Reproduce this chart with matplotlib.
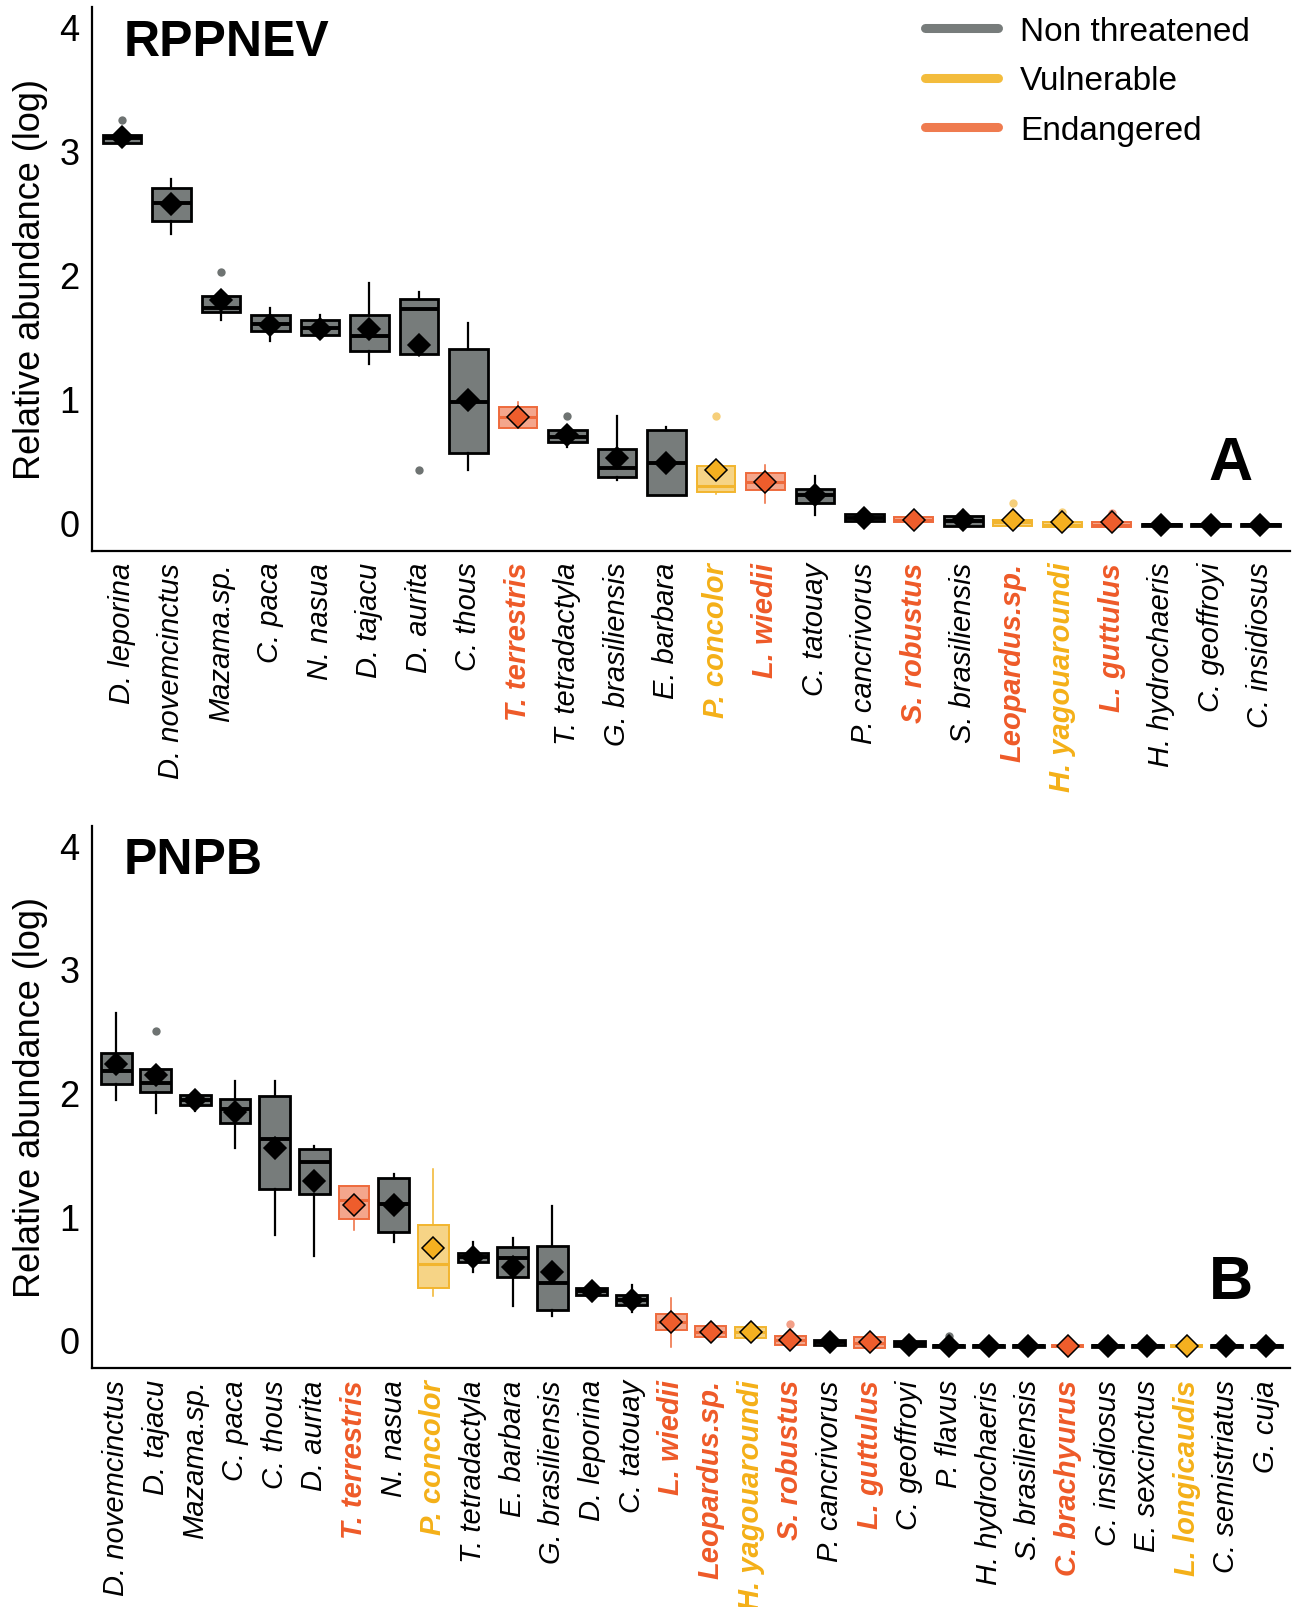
import matplotlib.pyplot as plt
from matplotlib.lines import Line2D

plt.rcParams['font.family'] = ['Liberation Sans', 'DejaVu Sans']

# status: N = non threatened, V = vulnerable, E = endangered
# ---------------- panel A : RPPNEV ----------------
species_a = ["D. leporina", "D. novemcinctus", "Mazama.sp.", "C. paca", "N. nasua",
             "D. tajacu", "D. aurita", "C. thous", "T. terrestris", "T. tetradactyla",
             "G. brasiliensis", "E. barbara", "P. concolor", "L. wiedii", "C. tatouay",
             "P. cancrivorus", "S. robustus", "S. brasiliensis", "Leopardus.sp.",
             "H. yagouaroundi", "L. guttulus", "H. hydrochaeris", "C. geoffroyi",
             "C. insidiosus"]
label_status_a = ["N", "N", "N", "N", "N", "N", "N", "N", "E", "N", "N", "N", "V", "E",
                  "N", "N", "E", "N", "E", "V", "E", "N", "N", "N"]
box_status_a = ["N", "N", "N", "N", "N", "N", "N", "N", "E", "N", "N", "N", "V", "E",
                "N", "N", "E", "N", "V", "V", "E", "N", "N", "N"]
q1_a = [3.06, 2.43, 1.70, 1.54, 1.51, 1.38, 1.36, 0.56, 0.76, 0.65, 0.36, 0.22, 0.24, 0.26,
        0.15, 0.005, 0.0, -0.03, -0.03, -0.04, -0.04, -0.035, -0.035, -0.035]
med_a = [3.10, 2.58, 1.73, 1.60, 1.57, 1.50, 1.72, 0.97, 0.85, 0.69, 0.44, 0.48, 0.29, 0.32,
         0.22, 0.03, 0.02, 0.01, 0.0, -0.02, -0.02, -0.025, -0.025, -0.025]
q3_a = [3.13, 2.70, 1.83, 1.67, 1.63, 1.67, 1.80, 1.40, 0.93, 0.74, 0.59, 0.74, 0.45, 0.40,
        0.27, 0.065, 0.04, 0.05, 0.02, 0.0, 0.0, -0.015, -0.015, -0.015]
lo_a = [3.04, 2.33, 1.63, 1.46, 1.51, 1.28, 1.36, 0.42, 0.76, 0.61, 0.34, 0.22, 0.23, 0.15,
        0.06, 0.0, 0.0, -0.03, -0.03, -0.04, -0.04, -0.035, -0.035, -0.035]
hi_a = [3.16, 2.77, 1.85, 1.73, 1.67, 1.93, 1.86, 1.61, 0.97, 0.77, 0.86, 0.77, 0.45, 0.46,
        0.37, 0.07, 0.04, 0.10, 0.02, 0.0, 0.0, -0.015, -0.015, -0.015]
mean_a = [3.11, 2.57, 1.79, 1.59, 1.56, 1.56, 1.43, 0.99, 0.85, 0.70, 0.52, 0.48, 0.42, 0.32,
          0.22, 0.03, 0.02, 0.02, 0.02, 0.0, 0.0, -0.025, -0.025, -0.025]
out_a = [[3.25], [], [2.02], [], [], [], [0.42], [], [], [0.86], [], [], [0.86], [], [],
         [], [], [], [0.15], [0.08], [0.075], [], [], []]

# ---------------- panel B : PNPB ----------------
species_b = ["D. novemcinctus", "D. tajacu", "Mazama.sp.", "C. paca", "C. thous", "D. aurita",
             "T. terrestris", "N. nasua", "P. concolor", "T. tetradactyla", "E. barbara",
             "G. brasiliensis", "D. leporina", "C. tatouay", "L. wiedii", "Leopardus.sp.",
             "H. yagouaroundi", "S. robustus", "P. cancrivorus", "L. guttulus", "C. geoffroyi",
             "P. flavus", "H. hydrochaeris", "S. brasiliensis", "C. brachyurus", "C. insidiosus",
             "E. sexcinctus", "L. longicaudis", "C. semistriatus", "G. cuja"]
label_status_b = ["N", "N", "N", "N", "N", "N", "E", "N", "V", "N", "N", "N", "N", "N", "E",
                  "E", "V", "E", "N", "E", "N", "N", "N", "N", "E", "N", "N", "V", "N", "N"]
box_status_b = label_status_b
q1_b = [2.07, 2.00, 1.90, 1.75, 1.22, 1.18, 0.98, 0.87, 0.42, 0.63, 0.51, 0.24, 0.36, 0.28,
        0.075, 0.02, 0.01, -0.04, -0.045, -0.07, -0.055, -0.06, -0.06, -0.06, -0.06, -0.06,
        -0.06, -0.06, -0.06, -0.06]
med_b = [2.17, 2.08, 1.94, 1.87, 1.62, 1.44, 1.13, 1.10, 0.61, 0.67, 0.66, 0.46, 0.39, 0.32,
         0.14, 0.06, 0.06, 0.0, -0.02, -0.03, -0.035, -0.05, -0.05, -0.05, -0.05, -0.05,
         -0.05, -0.05, -0.05, -0.05]
q3_b = [2.32, 2.19, 1.98, 1.95, 1.97, 1.54, 1.24, 1.31, 0.93, 0.70, 0.75, 0.76, 0.42, 0.36,
        0.21, 0.11, 0.10, 0.03, 0.0, 0.025, -0.01, -0.04, -0.04, -0.04, -0.04, -0.04,
        -0.04, -0.04, -0.04, -0.04]
lo_b = [1.94, 1.83, 1.85, 1.55, 0.85, 0.68, 0.89, 0.79, 0.35, 0.55, 0.27, 0.19, 0.31, 0.22,
        -0.06, 0.02, 0.01, -0.04, -0.045, -0.07, -0.055, -0.06, -0.06, -0.06, -0.06, -0.06,
        -0.06, -0.06, -0.06, -0.06]
hi_b = [2.64, 2.19, 1.99, 2.09, 2.09, 1.57, 1.24, 1.34, 1.38, 0.79, 0.82, 1.08, 0.46, 0.44,
        0.34, 0.11, 0.10, 0.03, 0.0, 0.025, -0.01, -0.04, -0.04, -0.04, -0.04, -0.04,
        -0.04, -0.04, -0.04, -0.04]
mean_b = [2.23, 2.14, 1.94, 1.84, 1.55, 1.28, 1.09, 1.09, 0.74, 0.67, 0.59, 0.55, 0.39, 0.32,
          0.14, 0.06, 0.06, 0.0, -0.02, -0.02, -0.04, -0.05, -0.05, -0.05, -0.05, -0.05,
          -0.05, -0.05, -0.05, -0.05]
out_b = [[], [2.50], [], [], [], [], [], [], [], [], [], [], [], [], [], [], [], [0.13], [],
         [], [], [0.03], [], [], [], [], [], [], [], []]

legend_labels = ["Non threatened", "Vulnerable", "Endangered"]

# colours per status
label_col = {"N": "black", "V": "#F4B018", "E": "#EE5A28"}
edge_col = {"N": "black", "V": "#F2B52E", "E": "#EE6A3C"}
face_col = {"N": "#777C7B", "V": "#F6D486", "E": "#F4A68C"}
dot_col = {"N": "#6E7372", "V": "#F6CF7A", "E": "#F3A088"}
mean_col = {"N": "black", "V": "#F5B020", "E": "#EE5D2C"}
leg_col = ["#777C7B", "#F3BC3C", "#EF7B4F"]


def draw_panel(ax, species, box_status, label_status, q1, med, q3, lo, hi, mean, out):
    for i in range(len(species)):
        st = box_status[i]
        stats = [dict(q1=q1[i], med=med[i], q3=q3[i], whislo=lo[i], whishi=hi[i],
                      mean=mean[i], fliers=out[i])]
        lw = 2.0 if st == "N" else 1.4
        ax.bxp(stats, positions=[i], widths=0.78, patch_artist=True,
               showmeans=True, showcaps=False, showfliers=True, manage_ticks=False,
               boxprops=dict(facecolor=face_col[st], edgecolor=edge_col[st], linewidth=lw),
               whiskerprops=dict(color=edge_col[st], linewidth=lw * 0.8),
               medianprops=dict(color=edge_col[st], linewidth=lw + 0.8),
               meanprops=dict(marker="D", markerfacecolor=mean_col[st],
                              markeredgecolor="black", markeredgewidth=1.1,
                              markersize=11),
               flierprops=dict(marker="o", markerfacecolor=dot_col[st],
                               markeredgecolor="none", markersize=6))
    ax.set_xlim(-0.6, len(species) - 0.4)
    ax.set_ylim(-0.23, 4.16)
    ax.set_yticks([0, 1, 2, 3, 4])
    ax.set_xticks(range(len(species)))
    ax.set_xticklabels(species, rotation=90, fontsize=21, style="italic")
    for lab, st in zip(ax.get_xticklabels(), label_status):
        lab.set_color(label_col[st])
        if st != "N":
            lab.set_fontweight("bold")
    ax.tick_params(axis="x", length=0, pad=8)
    ax.tick_params(axis="y", length=0, pad=9, labelsize=26)
    ax.set_ylabel("Relative abundance (log)", fontsize=26, labelpad=8)
    for s in ["top", "right"]:
        ax.spines[s].set_visible(False)
    for s in ["left", "bottom"]:
        ax.spines[s].set_linewidth(1.6)


fig = plt.figure(figsize=(12.92, 16.08), dpi=100)
ax1 = fig.add_axes([0.0714, 0.657, 0.927, 0.338])
ax2 = fig.add_axes([0.0714, 0.1486, 0.927, 0.3374])

draw_panel(ax1, species_a, box_status_a, label_status_a,
           q1_a, med_a, q3_a, lo_a, hi_a, mean_a, out_a)
draw_panel(ax2, species_b, box_status_b, label_status_b,
           q1_b, med_b, q3_b, lo_b, hi_b, mean_b, out_b)

ax1.text(0.026, 0.911, "RPPNEV", transform=ax1.transAxes, fontsize=36,
         fontweight="bold", va="baseline")
ax2.text(0.026, 0.913, "PNPB", transform=ax2.transAxes, fontsize=36,
         fontweight="bold", va="baseline")
ax1.text(0.969, 0.132, "A", transform=ax1.transAxes, fontsize=44,
         fontweight="bold", ha="right", va="baseline")
ax2.text(0.969, 0.130, "B", transform=ax2.transAxes, fontsize=44,
         fontweight="bold", ha="right", va="baseline")

handles = [Line2D([], [], color=c, linewidth=6.5, solid_capstyle="round") for c in leg_col]
fig.legend(handles, legend_labels, loc="upper left", bbox_to_anchor=(925 / 1292, 1 - 17 / 1608),
           frameon=False, fontsize=24, handlelength=2.2, handletextpad=0.65,
           labelspacing=0.55, borderpad=0, borderaxespad=0)

fig.savefig("out.png", dpi=100)
